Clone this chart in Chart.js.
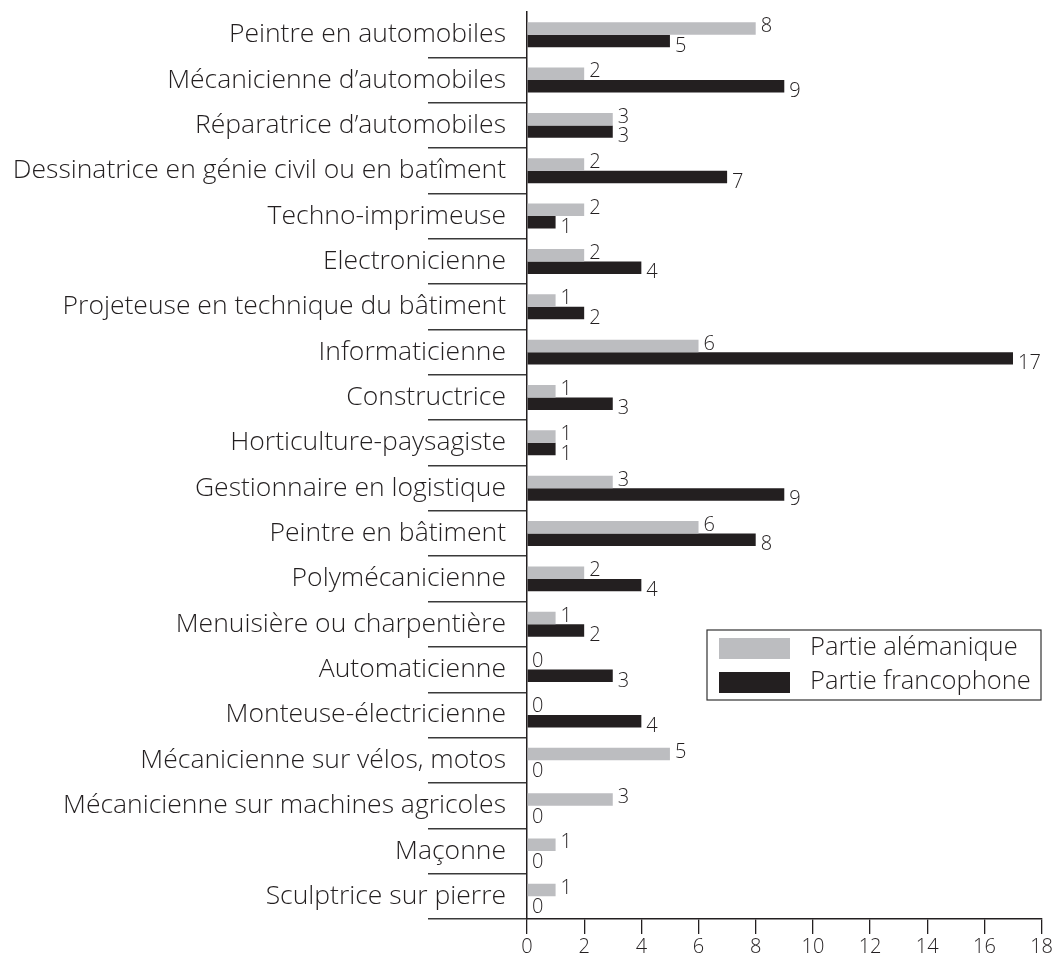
<!DOCTYPE html>
<html>
<head>
<meta charset="utf-8">
<script src="https://cdn.jsdelivr.net/npm/chart.js@4.4.1/dist/chart.umd.min.js"></script>
<style>
  html, body { margin: 0; padding: 0; background: #fff; }
  #wrap { width: 1054px; height: 962px; }
</style>
</head>
<body>
<div id="wrap"><canvas id="chart" width="1054" height="962"></canvas></div>
<script>
const categories = [
  'Peintre en automobiles',
  'Mécanicienne d\u2019automobiles',
  'Réparatrice d\u2019automobiles',
  'Dessinatrice en génie civil ou en batîment',
  'Techno-imprimeuse',
  'Electronicienne',
  'Projeteuse en technique du bâtiment',
  'Informaticienne',
  'Constructrice',
  'Horticulture-paysagiste',
  'Gestionnaire en logistique',
  'Peintre en bâtiment',
  'Polymécanicienne',
  'Menuisière ou charpentière',
  'Automaticienne',
  'Monteuse-électricienne',
  'Mécanicienne sur vélos, motos',
  'Mécanicienne sur machines agricoles',
  'Maçonne',
  'Sculptrice sur pierre'
];
const alemanique = [8, 2, 3, 2, 2, 2, 1, 6, 1, 1, 3, 6, 2, 1, 0, 0, 5, 3, 1, 1];
const francophone = [5, 9, 3, 7, 1, 4, 2, 17, 3, 1, 9, 8, 4, 2, 3, 4, 0, 0, 0, 0];
const xTicks = [0, 2, 4, 6, 8, 10, 12, 14, 16, 18];

const FONT = '"Open Sans", Lato, sans-serif';
const INK = '#231f20';

// value labels next to each bar (grey a bit up, black a bit down)
const barLabels = {
  id: 'barLabels',
  afterDatasetsDraw(chart) {
    const ctx = chart.ctx;
    ctx.save();
    ctx.font = '300 20px ' + FONT;
    ctx.fillStyle = INK;
    ctx.textAlign = 'left';
    ctx.textBaseline = 'middle';
    chart.data.datasets.forEach((ds, i) => {
      const meta = chart.getDatasetMeta(i);
      meta.data.forEach((bar, j) => {
        const dy = i === 0 ? -2 : 5;
        ctx.fillText(String(ds.data[j]), bar.x + 5, bar.y + dy);
      });
    });
    ctx.restore();
  }
};

// boxed legend inside the plot
const boxLegend = {
  id: 'boxLegend',
  afterDraw(chart) {
    const ctx = chart.ctx;
    const x = 707, y = 630, w = 334, h = 70;
    ctx.save();
    ctx.strokeStyle = '#333';
    ctx.lineWidth = 1.2;
    ctx.strokeRect(x, y, w, h);
    ctx.font = '300 25.5px ' + FONT;
    ctx.textBaseline = 'middle';
    ctx.textAlign = 'left';
    chart.data.datasets.forEach((ds, i) => {
      const cy = y + 18 + i * 34;
      ctx.fillStyle = ds.backgroundColor;
      ctx.fillRect(x + 12, cy - 10, 71, 21);
      ctx.fillStyle = INK;
      ctx.fillText(ds.label, x + 103, cy);
    });
    ctx.restore();
  }
};

new Chart(document.getElementById('chart'), {
  type: 'bar',
  data: {
    labels: categories,
    datasets: [
      { label: 'Partie alémanique', data: alemanique, backgroundColor: '#bcbdc0' },
      { label: 'Partie francophone', data: francophone, backgroundColor: '#231f20' }
    ]
  },
  options: {
    indexAxis: 'y',
    responsive: false,
    animation: false,
    layout: { padding: { top: 12, right: 12, left: 0, bottom: 0 } },
    datasets: { bar: { categoryPercentage: 0.55, barPercentage: 1 } },
    plugins: {
      legend: { display: false },
      tooltip: { enabled: false }
    },
    scales: {
      x: {
        type: 'linear',
        min: 0,
        max: 18,
        afterBuildTicks: s => { s.ticks = xTicks.map(v => ({ value: v })); },
        afterFit: s => { s.height = 43; },
        grid: { drawOnChartArea: false, tickLength: 15, color: INK, lineWidth: 1.3 },
        border: { color: INK, width: 1.5 },
        ticks: { font: { family: FONT, size: 20, weight: '300' }, color: INK, padding: 1 }
      },
      y: {
        afterFit: s => { s.width = 527; },
        grid: {
          offset: true,
          drawOnChartArea: false,
          tickLength: 99,
          lineWidth: 1.5,
          color: ctx => ctx.index === 0 ? 'rgba(0,0,0,0)' : '#3a3a3a'
        },
        border: { color: INK, width: 1.5 },
        ticks: { font: { family: FONT, size: 26.5, weight: '300' }, color: INK, padding: -78, autoSkip: false }
      }
    }
  },
  plugins: [barLabels, boxLegend]
});
</script>
</body>
</html>
